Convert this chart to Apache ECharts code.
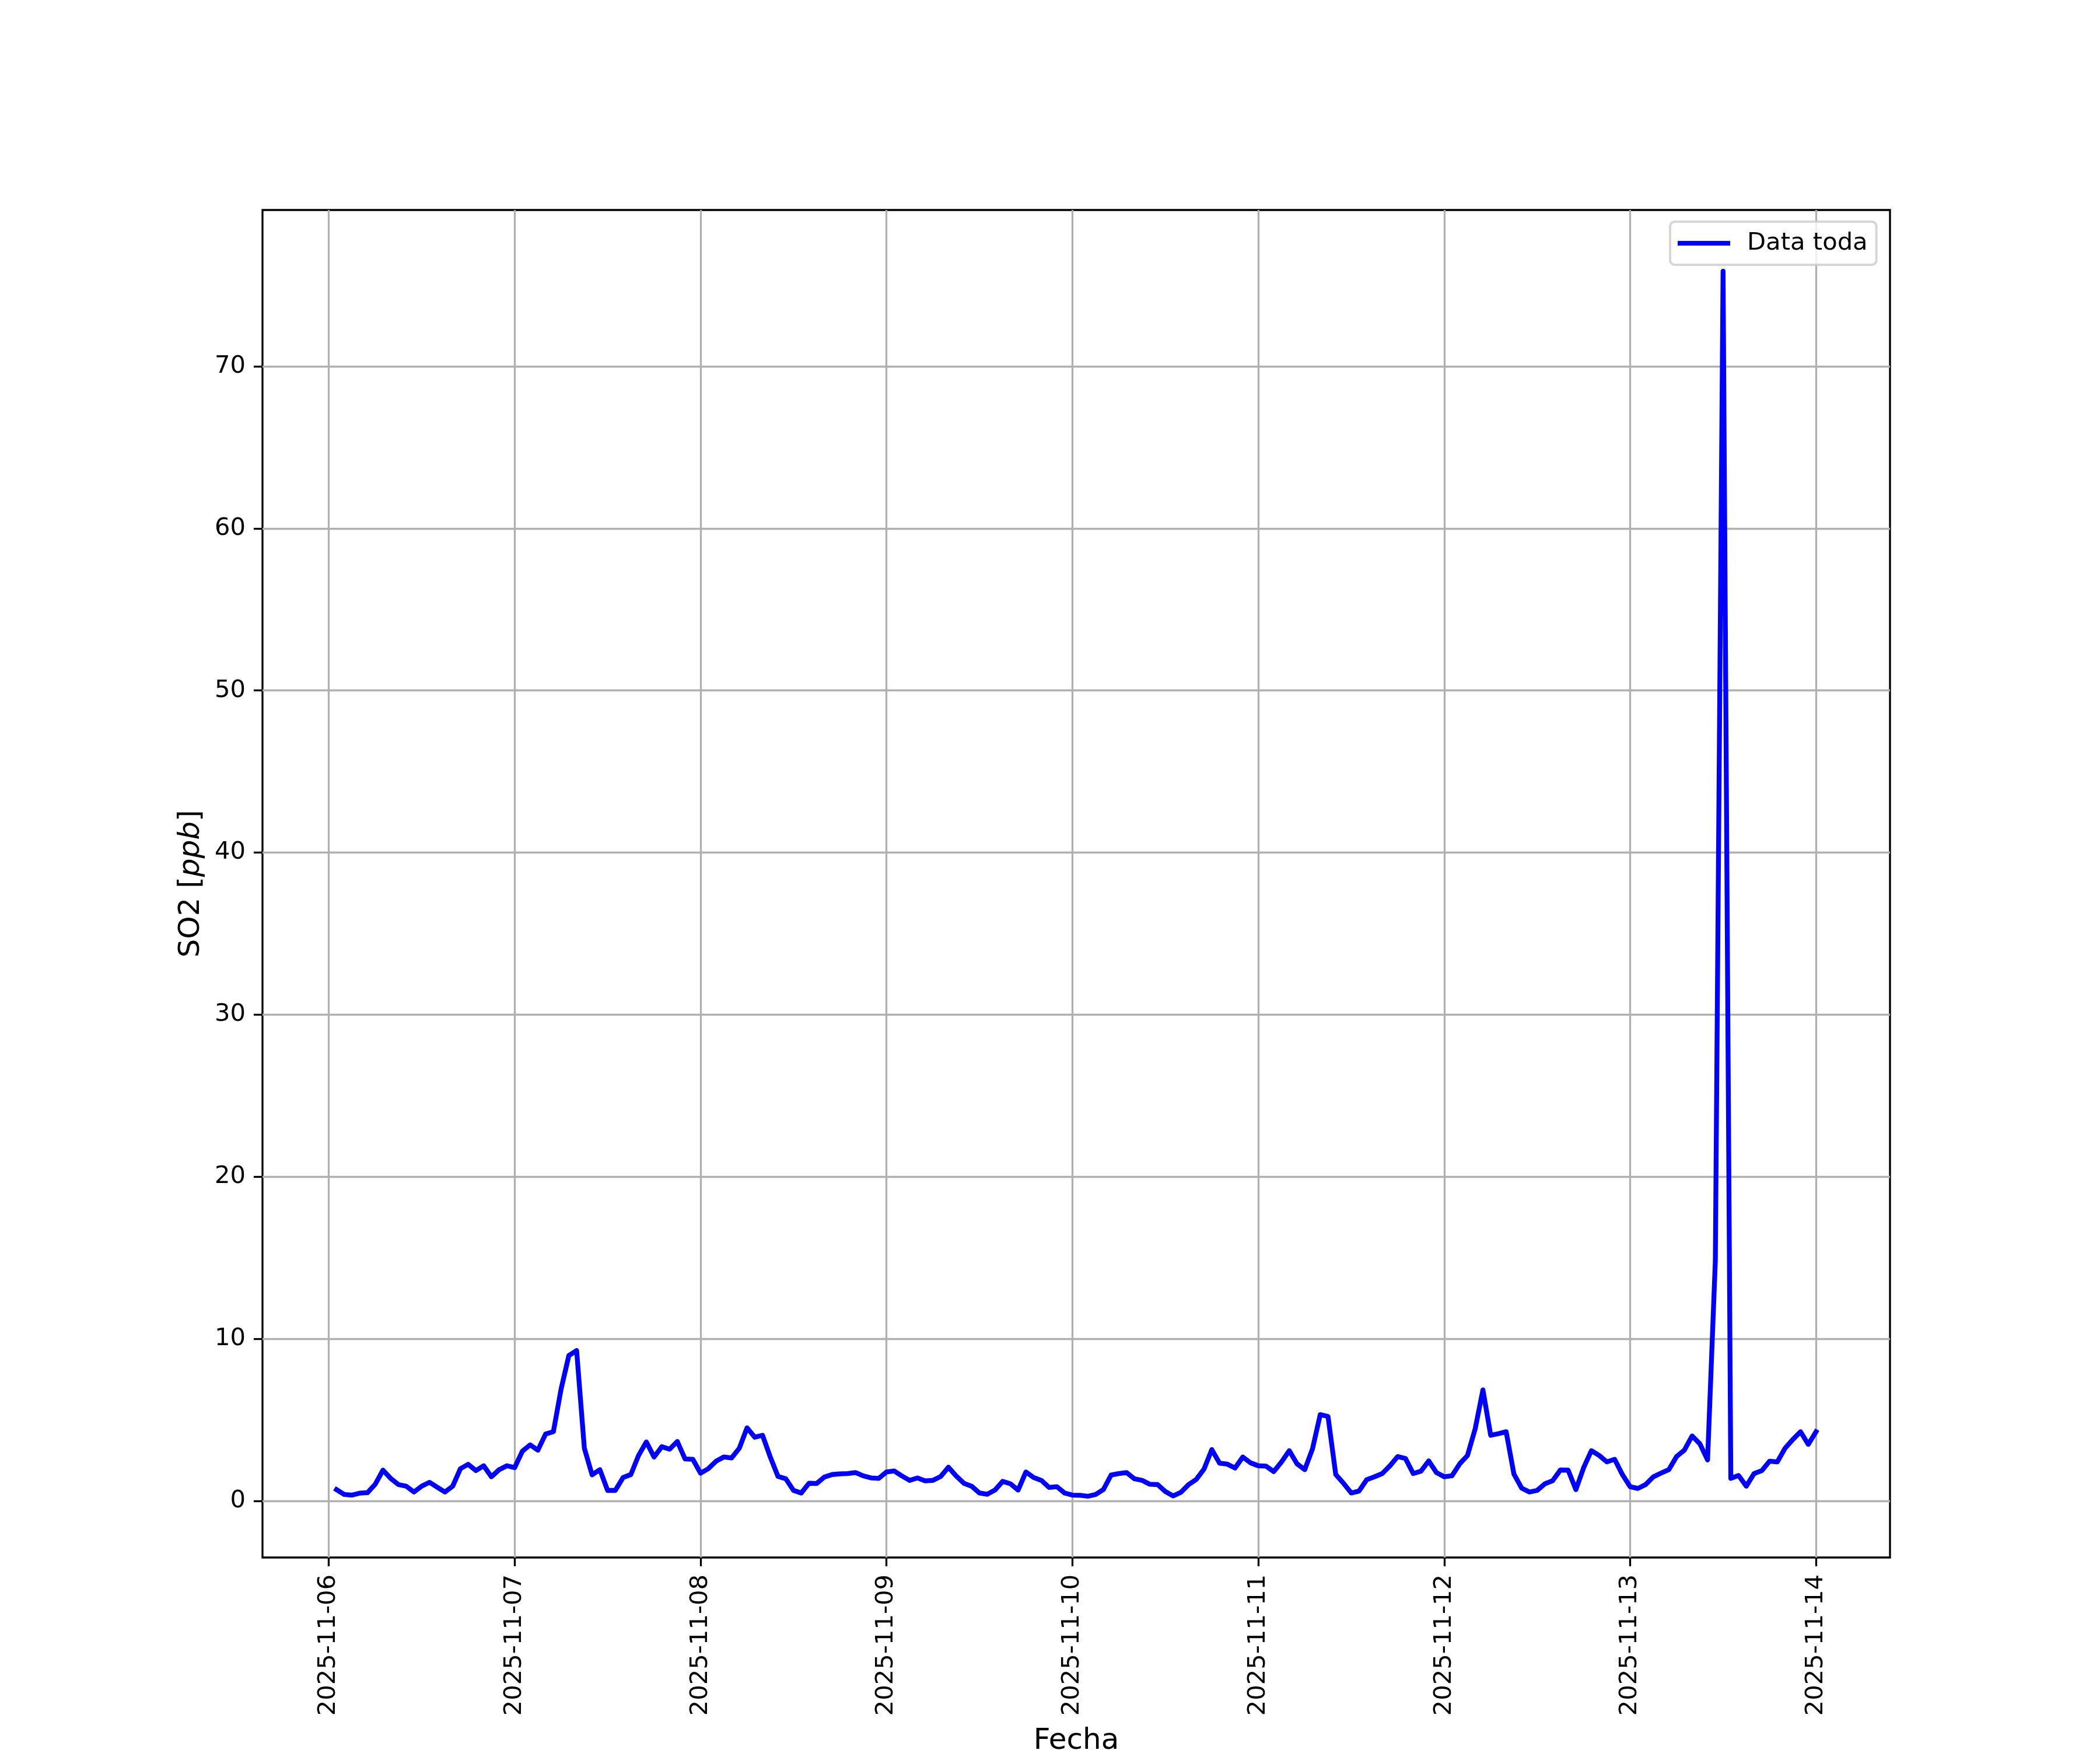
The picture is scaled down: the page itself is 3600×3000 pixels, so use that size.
<!DOCTYPE html>
<html>
<head>
<meta charset="utf-8">
<script src="https://cdn.jsdelivr.net/npm/echarts@6/dist/echarts.min.js"></script>
<style>
html, body { margin: 0; padding: 0; background: #fff; }
#main { width: 3600px; height: 3000px; }
</style>
</head>
<body>
<div id="main"></div>
<script>
// hourly SO2 readings, first one at 2025-11-06 01:00, last at 2025-11-14 00:00
const startTime = '2025-11-06T01:00:00Z'
const seriesName = 'Data toda'
const so2Values = [
  // 11-06
  0.71, 0.41, 0.37, 0.49, 0.52, 1.04, 1.91, 1.40, 1.02, 0.92, 0.56, 0.92,
  1.16, 0.86, 0.56, 0.92, 2.00, 2.27, 1.88, 2.18, 1.50, 1.94, 2.18, 2.06,
  // 11-07
  3.08, 3.47, 3.14, 4.14, 4.28, 6.92, 8.98, 9.29, 3.26, 1.62, 1.94, 0.66,
  0.66, 1.46, 1.64, 2.82, 3.65, 2.72, 3.36, 3.20, 3.68, 2.60, 2.58, 1.72,
  // 11-08
  2.00, 2.46, 2.72, 2.66, 3.26, 4.52, 3.94, 4.06, 2.72, 1.52, 1.38, 0.66,
  0.50, 1.10, 1.09, 1.49, 1.64, 1.68, 1.70, 1.76, 1.56, 1.43, 1.40, 1.80,
  // 11-09
  1.86, 1.55, 1.28, 1.43, 1.25, 1.28, 1.52, 2.09, 1.55, 1.10, 0.92, 0.50,
  0.42, 0.68, 1.22, 1.07, 0.68, 1.80, 1.46, 1.28, 0.84, 0.89, 0.50, 0.37,
  // 11-10
  0.36, 0.30, 0.41, 0.71, 1.61, 1.70, 1.76, 1.38, 1.28, 1.04, 1.02, 0.59,
  0.32, 0.54, 1.02, 1.34, 1.98, 3.18, 2.34, 2.28, 2.04, 2.72, 2.36, 2.18,
  // 11-11
  2.16, 1.82, 2.42, 3.11, 2.30, 1.94, 3.23, 5.34, 5.22, 1.64, 1.10, 0.50,
  0.62, 1.32, 1.50, 1.70, 2.18, 2.75, 2.63, 1.70, 1.85, 2.48, 1.76, 1.50,
  // 11-12
  1.56, 2.30, 2.81, 4.46, 6.86, 4.06, 4.16, 4.28, 1.67, 0.80, 0.56, 0.66,
  1.07, 1.26, 1.92, 1.91, 0.71, 2.06, 3.11, 2.82, 2.42, 2.58, 1.64, 0.89,
  // 11-13
  0.78, 1.02, 1.50, 1.73, 1.94, 2.75, 3.14, 4.02, 3.54, 2.54, 14.8, 75.86,
  1.40, 1.58, 0.92, 1.70, 1.88, 2.46, 2.42, 3.26, 3.80, 4.28, 3.50, 4.28
]
const dayTicks = ['2025-11-06', '2025-11-07', '2025-11-08', '2025-11-09', '2025-11-10',
  '2025-11-11', '2025-11-12', '2025-11-13', '2025-11-14']
const yTicks = [0, 10, 20, 30, 40, 50, 60, 70]

const HOUR = 3600 * 1000
const font = 'DejaVu Sans'
const t0 = new Date(startTime).getTime()
const points = so2Values.map((v, i) => [t0 + i * HOUR, v])
const tickTimes = dayTicks.map(d => new Date(d + 'T00:00:00Z').getTime())

// matplotlib style 5% margins
const tFirst = points[0][0], tLast = points[points.length - 1][0]
const vMin = Math.min(...so2Values), vMax = Math.max(...so2Values)
const xPad = (tLast - tFirst) * 0.05
const yPad = (vMax - vMin) * 0.05

const gridColor = '#b0b0b0'
const chart = echarts.init(document.getElementById('main'))
chart.setOption({
  animation: false,
  backgroundColor: '#ffffff',
  textStyle: { fontFamily: font },
  grid: {
    left: 450, right: 360, top: 360, bottom: 330,
    outerBoundsMode: 'none', containLabel: false,
    show: true, borderColor: '#000', borderWidth: 3.3, backgroundColor: 'transparent'
  },
  legend: {
    data: [seriesName],
    left: 2863, top: 380,
    padding: [16, 15, 16, 13],
    icon: 'rect',
    itemWidth: 90, itemHeight: 8,
    backgroundColor: 'rgba(255,255,255,0.8)',
    borderColor: 'rgba(204,204,204,0.8)',
    borderWidth: 4, borderRadius: 8,
    textStyle: { fontFamily: font, fontSize: 41.7, color: '#000', padding: [0, 0, 0, 24] }
  },
  xAxis: {
    type: 'value',
    min: tFirst - xPad,
    max: tLast + xPad,
    name: 'Fecha',
    nameLocation: 'middle',
    nameGap: 290,
    nameTextStyle: { fontFamily: font, fontSize: 50, color: '#000' },
    axisLine: { show: false, onZero: false },
    axisTick: { show: true, inside: false, length: 15, customValues: tickTimes,
      lineStyle: { color: '#000', width: 3.3 } },
    axisLabel: {
      customValues: tickTimes,
      rotate: 90, margin: 29,
      fontFamily: font, fontSize: 41.7, color: '#000',
      formatter: val => new Date(val).toISOString().slice(0, 10)
    },
    splitLine: { show: true, lineStyle: { color: gridColor, width: 3.3 } }
  },
  yAxis: {
    type: 'value',
    min: vMin - yPad,
    max: vMax + yPad,
    name: 'SO2 [{i|ppb}]',
    nameLocation: 'middle',
    nameGap: 97,
    nameTextStyle: { fontFamily: font, fontSize: 50, color: '#000',
      rich: { i: { fontFamily: font, fontSize: 50, fontStyle: 'italic', color: '#000' } } },
    axisLine: { show: false, onZero: false },
    axisTick: { show: true, inside: false, length: 15, customValues: yTicks,
      lineStyle: { color: '#000', width: 3.3 } },
    axisLabel: { customValues: yTicks, margin: 29, fontFamily: font, fontSize: 41.7, color: '#000' },
    splitLine: { show: true, lineStyle: { color: gridColor, width: 3.3 } }
  },
  series: [
    {
      name: seriesName,
      type: 'line',
      data: points,
      showSymbol: false,
      symbol: 'none',
      itemStyle: { color: '#0000ff' },
      lineStyle: { color: '#0000ff', width: 8.3, cap: 'square', join: 'round' }
    }
  ]
})
</script>
</body>
</html>
